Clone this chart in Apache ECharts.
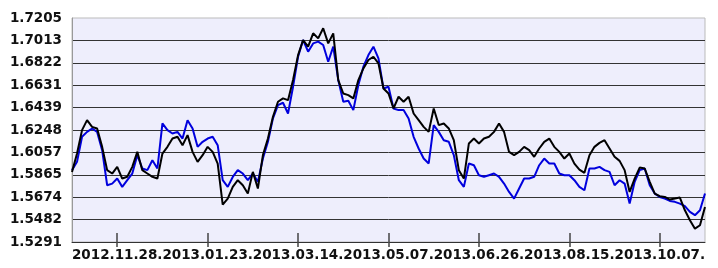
<!DOCTYPE html>
<html>
<head>
<meta charset="utf-8">
<script src="https://cdn.jsdelivr.net/npm/echarts@6/dist/echarts.min.js"></script>
<style>
html, body { margin: 0; padding: 0; background: #fff; }
#main { width: 718px; height: 268px; }
</style>
</head>
<body>
<div id="main"></div>
<script>
// y tick labels, bottom to top
const yTickLabels = ["1.5291", "1.5482", "1.5674", "1.5865", "1.6057", "1.6248",
  "1.6439", "1.6631", "1.6822", "1.7013", "1.7205"];
const yBase = 1.5291;
const yStep = 0.01914;

// x ticks: position (sample index) and text
const xTickIndex = [9, 27, 45, 63, 81, 99, 117];
const xTickLabels = ["2012.11.28.", "2013.01.23.", "2013.03.14.", "2013.05.07.",
  "2013.06.26.", "2013.08.15.", "2013.10.07."];

const blueValues = [
  1.5905, 1.5976, 1.6190, 1.6232, 1.6261, 1.6232, 1.6076, 1.5776, 1.5790, 1.5833,
  1.5762, 1.5819, 1.5876, 1.6033, 1.5919, 1.5905, 1.5990, 1.5919, 1.6304, 1.6247,
  1.6218, 1.6232, 1.6175, 1.6332, 1.6261, 1.6104, 1.6147, 1.6175, 1.6190, 1.6118,
  1.5819, 1.5762, 1.5847, 1.5905, 1.5876, 1.5819, 1.5876, 1.5805, 1.6004, 1.6147,
  1.6347, 1.6461, 1.6481, 1.6389, 1.6618, 1.6874, 1.7017, 1.6917, 1.6988, 1.7003,
  1.6974, 1.6831, 1.6960, 1.6675, 1.6489, 1.6498, 1.6418, 1.6632, 1.6789, 1.6888,
  1.6960, 1.6860, 1.6603, 1.6618, 1.6432, 1.6418, 1.6418, 1.6347, 1.6190, 1.6090,
  1.6004, 1.5962, 1.6290, 1.6232, 1.6161, 1.6147, 1.6033, 1.5819, 1.5762, 1.5962,
  1.5947, 1.5862, 1.5848, 1.5862, 1.5876, 1.5848, 1.5790, 1.5719, 1.5662, 1.5748,
  1.5833, 1.5833, 1.5848, 1.5947, 1.6004, 1.5962, 1.5962, 1.5876, 1.5862, 1.5862,
  1.5819, 1.5762, 1.5733, 1.5919, 1.5919, 1.5933, 1.5905, 1.5890, 1.5776, 1.5819,
  1.5790, 1.5619, 1.5805, 1.5905, 1.5919, 1.5776, 1.5705, 1.5676, 1.5662, 1.5642,
  1.5634, 1.5619, 1.5597, 1.5548, 1.5520, 1.5562, 1.5705
];

const blackValues = [
  1.5890, 1.6047, 1.6247, 1.6332, 1.6275, 1.6261, 1.6104, 1.5905, 1.5876, 1.5933,
  1.5833, 1.5848, 1.5933, 1.6061, 1.5905, 1.5876, 1.5848, 1.5833, 1.6047, 1.6104,
  1.6175, 1.6190, 1.6118, 1.6204, 1.6061, 1.5976, 1.6033, 1.6104, 1.6061, 1.5961,
  1.5610, 1.5662, 1.5762, 1.5819, 1.5776, 1.5705, 1.5890, 1.5748, 1.6033, 1.6175,
  1.6361, 1.6489, 1.6518, 1.6503, 1.6675, 1.6888, 1.7017, 1.6960, 1.7074, 1.7031,
  1.7117, 1.6988, 1.7074, 1.6675, 1.6560, 1.6546, 1.6518, 1.6675, 1.6774, 1.6846,
  1.6874, 1.6817, 1.6603, 1.6560, 1.6432, 1.6532, 1.6489, 1.6532, 1.6389, 1.6332,
  1.6275, 1.6232, 1.6432, 1.6290, 1.6304, 1.6261, 1.6161, 1.5905, 1.5833, 1.6133,
  1.6175, 1.6133, 1.6175, 1.6190, 1.6232, 1.6304, 1.6232, 1.6061, 1.6033, 1.6061,
  1.6104, 1.6076, 1.6019, 1.6090, 1.6147, 1.6175, 1.6104, 1.6061, 1.6004, 1.6047,
  1.5961, 1.5910, 1.5882, 1.6033, 1.6104, 1.6138, 1.6161, 1.6090, 1.6019, 1.5984,
  1.5905, 1.5719, 1.5833, 1.5927, 1.5919, 1.5805, 1.5705, 1.5682, 1.5676, 1.5654,
  1.5662, 1.5671, 1.5562, 1.5477, 1.5405, 1.5434, 1.5591
];

const categories = blueValues.map((v, i) => String(i));
// the axis runs in grid units so that every labelled level is a tick
const toUnits = (v) => (v - yBase) / yStep;

const showTick = (index) => xTickIndex.indexOf(index) >= 0;

var chart = echarts.init(document.getElementById("main"));
var option = {
  animation: false,
  backgroundColor: "#ffffff",
  grid: {
    left: 72,
    right: 13,
    top: 18,
    bottom: 26,
    show: true,
    backgroundColor: "#eeeefc",
    borderColor: "#bbbbbb",
    borderWidth: 1,
  },
  xAxis: [
    {
      type: "category",
      position: "bottom",
      boundaryGap: false,
      data: categories,
      axisLine: { lineStyle: { color: "#333333", width: 1 } },
      axisTick: {
        show: true,
        interval: showTick,
        length: 5,
        lineStyle: { color: "#444444", width: 1.5 },
      },
      axisLabel: {
        interval: showTick,
        formatter: (value, index) => xTickLabels[xTickIndex.indexOf(Number(value))] || "",
        fontFamily: "DejaVu Sans",
        fontWeight: "bold",
        fontSize: 13.5,
        color: "#111111",
        margin: 6,
      },
      splitLine: { show: false },
    },
    {
      type: "category",
      position: "bottom",
      boundaryGap: false,
      data: categories,
      axisLine: { show: false },
      axisTick: {
        show: true,
        inside: true,
        interval: showTick,
        length: 9,
        lineStyle: { color: "#444444", width: 1.5 },
      },
      axisLabel: { show: false },
      splitLine: { show: false },
    },
  ],
  yAxis: {
    type: "value",
    min: 0,
    max: 10,
    interval: 1,
    axisLine: { show: true, lineStyle: { color: "#999999" } },
    axisTick: { show: false },
    axisLabel: {
      formatter: (value) => yTickLabels[Math.round(value)],
      fontFamily: "DejaVu Sans",
      fontWeight: "bold",
      fontSize: 13.5,
      color: "#111111",
      margin: 10,
    },
    splitLine: {
      show: true,
      showMinLine: false,
      showMaxLine: false,
      lineStyle: { color: "#333333", width: 1 },
    },
  },
  series: [
    {
      name: "blue",
      type: "line",
      xAxisIndex: 0,
      data: blueValues.map(toUnits),
      showSymbol: false,
      lineStyle: { color: "#0000dd", width: 2 },
      itemStyle: { color: "#0000dd" },
    },
    {
      name: "black",
      type: "line",
      xAxisIndex: 0,
      data: blackValues.map(toUnits),
      showSymbol: false,
      lineStyle: { color: "#000000", width: 2 },
      itemStyle: { color: "#000000" },
    },
  ],
};

option && chart.setOption(option);
</script>
</body>
</html>
